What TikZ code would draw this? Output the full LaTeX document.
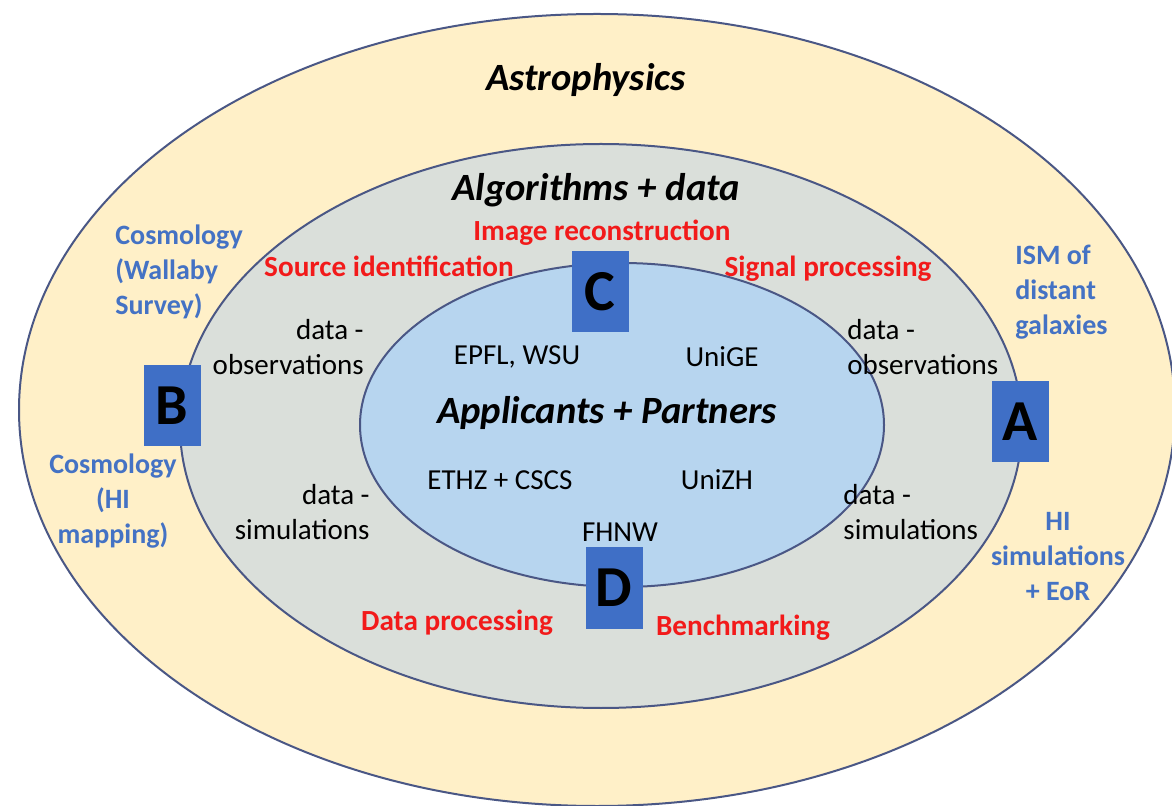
\documentclass[tikz,border=0pt]{standalone}
\usepackage{fontspec}
\setmainfont{Carlito}
\usepackage{xcolor}
\usepackage{tikz}

\definecolor{astrofill}{HTML}{FFF0C8}
\definecolor{algofill}{HTML}{DADFDA}
\definecolor{partnerfill}{HTML}{B7D5EF}
\definecolor{ringline}{HTML}{4A5785}
\definecolor{boxblue}{HTML}{3F6FC6}
\definecolor{scienceblue}{HTML}{4472C4}
\definecolor{topicred}{HTML}{F21A1A}

\begin{document}
\begin{tikzpicture}[x=0.5pt,y=-0.5pt,
  ring/.style={draw=ringline,line width=1pt},
  letterbox/.style={fill=boxblue,minimum width=28.5pt,minimum height=40.5pt,inner sep=0pt,font=\fontsize{29}{30}\selectfont\bfseries},
  title/.style={inner sep=0pt,font=\fontsize{19.3}{23}\selectfont\bfseries\itshape},
  topic/.style={inner sep=0pt,text=topicred,font=\fontsize{14.6}{17.5}\selectfont\bfseries},
  science/.style={inner sep=0pt,text=scienceblue,font=\fontsize{14}{17.5}\selectfont\bfseries},
  plain/.style={inner sep=0pt,font=\fontsize{14.5}{17.5}\selectfont}]
\useasboundingbox (0,0) rectangle (1172,806);
\path[clip] (0,0) rectangle (1172,806);

% the three rings
\filldraw[ring,fill=astrofill] (597,410) ellipse (578 and 396);
\filldraw[ring,fill=algofill] (601,426) ellipse (421 and 282);
\filldraw[ring,fill=partnerfill] (622,425) ellipse (262 and 162);

% letter boxes on the ring lines
\node[letterbox] (boxA) at (1020,422) {A};
\node[letterbox] (boxB) at (172,406) {B};
\node[letterbox] (boxC) at (600,292) {C};
\node[letterbox] (boxD) at (614,588) {D};

% titles
\node[title] (astro) at (586,80) {Astrophysics};
\node[title] (algo) at (596,190) {Algorithms + data};
\node[title] (partners) at (607,413) {Applicants + Partners};

% algorithm topics
\node[topic] (imgrec) at (602,233) {Image reconstruction};
\node[topic] (srcid) at (389,266) {Source identification};
\node[topic] (sigproc) at (828,269) {Signal processing};
\node[topic] (dataproc) at (457,623) {Data processing};
\node[topic] (bench) at (743,628) {Benchmarking};

% science cases
\node[science,anchor=west,align=left] (wallaby) at (115,272) {Cosmology\\(Wallaby\\Survey)};
\node[science,align=center] (himap) at (113,501) {Cosmology\\(HI\\mapping)};
\node[science,anchor=west,align=left] (ism) at (1015,292) {ISM of\\distant\\galaxies};
\node[science,align=center] (hisim) at (1058,557) {HI\\simulations\\+ EoR};

% data
\node[plain,anchor=east,align=right] (obsB) at (364,347) {data -\\observations};
\node[plain,anchor=east,align=right] (simB) at (370,512) {data -\\simulations};
\node[plain,anchor=west,align=left] (obsA) at (847,347) {data -\\observations};
\node[plain,anchor=west,align=left] (simA) at (843,512) {data -\\simulations};

% partners
\node[plain] (epfl) at (517,357) {EPFL, WSU};
\node[plain] (unige) at (722,357) {UniGE};
\node[plain] (ethz) at (500,480) {ETHZ + CSCS};
\node[plain] (unizh) at (717,480) {UniZH};
\node[plain] (fhnw) at (620,532) {FHNW};
\end{tikzpicture}
\end{document}
